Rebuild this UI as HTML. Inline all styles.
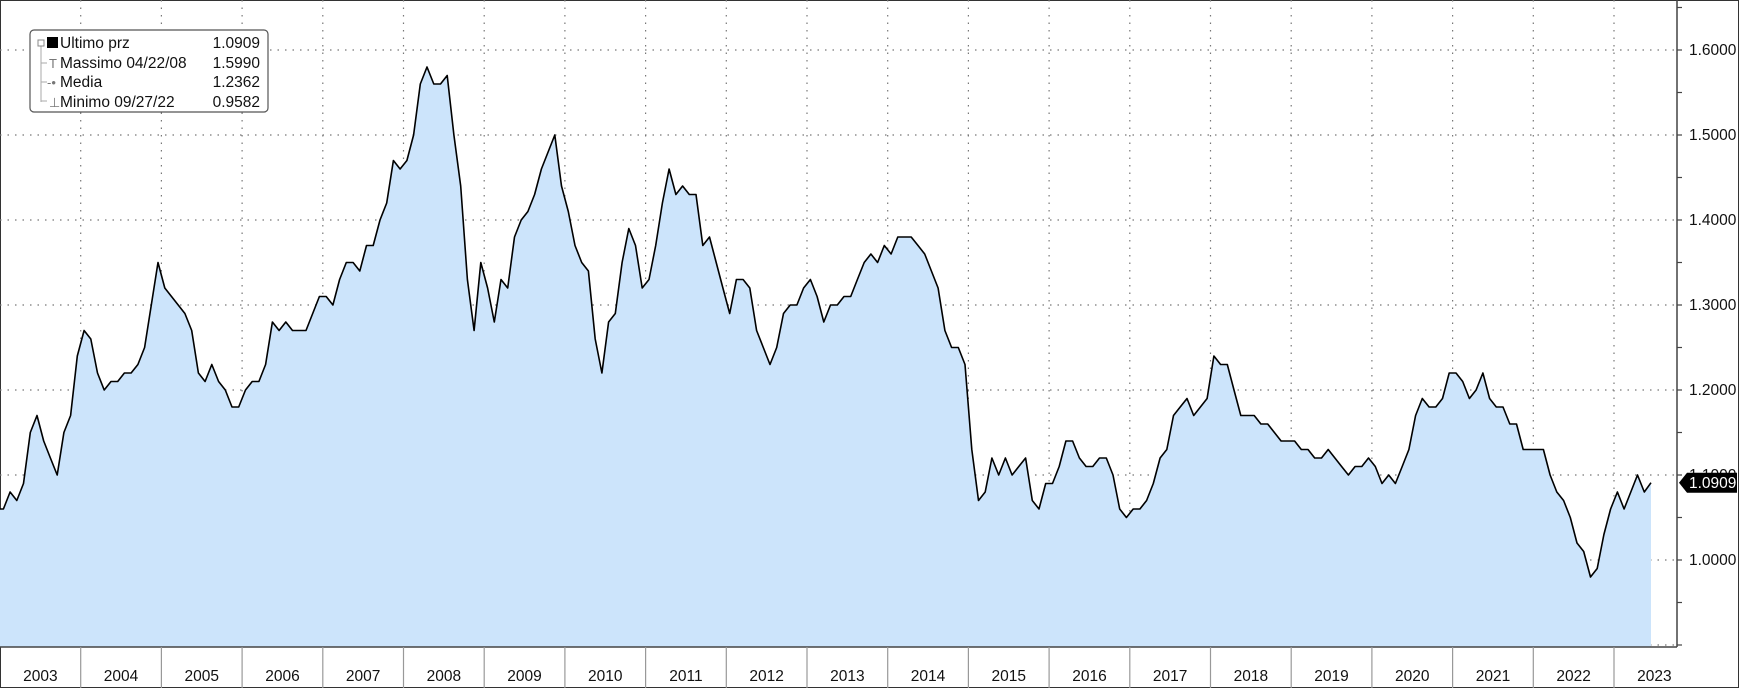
<!DOCTYPE html>
<html><head><meta charset="utf-8"><style>
html,body{margin:0;padding:0;background:#fff;}
svg{display:block;font-family:"Liberation Sans","DejaVu Sans",sans-serif;}
</style></head><body>
<svg id="chart" width="1739" height="688" viewBox="0 0 1739 688" xmlns="http://www.w3.org/2000/svg">
<rect x="0.5" y="0.5" width="1738" height="687" fill="#fff" stroke="#333"/>
<g id="grid"></g>
<g id="series"></g>
<g id="yaxis"></g>
<g id="xaxis"></g>
<g>
<rect x="30" y="30" width="238" height="82" rx="4" fill="#fff" stroke="#555" stroke-width="1.2"/>
<g font-size="15.5" fill="#111">
<path d="M41 44 V102 M41 63 H47 M41 82 H47 M41 101 H47" stroke="#aaa" fill="none"/>
<rect x="38" y="40" width="6" height="6" fill="#fff" stroke="#888"/>
<rect x="47" y="37" width="11" height="11" fill="#000"/>
<text x="60" y="48">Ultimo prz</text><text x="260" y="48" text-anchor="end">1.0909</text>
<text x="49" y="68" font-size="13" fill="#777">T</text>
<text x="60" y="68">Massimo 04/22/08</text><text x="260" y="68" text-anchor="end">1.5990</text>
<text x="47" y="87" font-size="13" fill="#777">-•</text>
<text x="60" y="87">Media</text><text x="260" y="87" text-anchor="end">1.2362</text>
<text x="49" y="107" font-size="13" fill="#777">⊥</text>
<text x="60" y="107">Minimo 09/27/22</text><text x="260" y="107" text-anchor="end">0.9582</text>
</g></g>
</svg>
<script>
const years = ["2003","2004","2005","2006","2007","2008","2009","2010","2011","2012","2013","2014","2015","2016","2017","2018","2019","2020","2021","2022","2023"];
const yTicks = [1.0,1.1,1.2,1.3,1.4,1.5,1.6];
const yTickLabels = ["1.0000","1.1000","1.2000","1.3000","1.4000","1.5000","1.6000"];
const lastValue = 1.0909;
const prices = [
1.06,1.08,1.07,1.09,1.15,1.17,1.14,1.12,1.10,1.15,1.17,1.24,
1.27,1.26,1.22,1.20,1.21,1.21,1.22,1.22,1.23,1.25,1.30,1.35,
1.32,1.31,1.30,1.29,1.27,1.22,1.21,1.23,1.21,1.20,1.18,1.18,
1.20,1.21,1.21,1.23,1.28,1.27,1.28,1.27,1.27,1.27,1.29,1.31,
1.31,1.30,1.33,1.35,1.35,1.34,1.37,1.37,1.40,1.42,1.47,1.46,
1.47,1.50,1.56,1.58,1.56,1.56,1.57,1.50,1.44,1.33,1.27,1.35,
1.32,1.28,1.33,1.32,1.38,1.40,1.41,1.43,1.46,1.48,1.50,1.44,
1.41,1.37,1.35,1.34,1.26,1.22,1.28,1.29,1.35,1.39,1.37,1.32,
1.33,1.37,1.42,1.46,1.43,1.44,1.43,1.43,1.37,1.38,1.35,1.32,
1.29,1.33,1.33,1.32,1.27,1.25,1.23,1.25,1.29,1.30,1.30,1.32,
1.33,1.31,1.28,1.30,1.30,1.31,1.31,1.33,1.35,1.36,1.35,1.37,
1.36,1.38,1.38,1.38,1.37,1.36,1.34,1.32,1.27,1.25,1.25,1.23,
1.13,1.07,1.08,1.12,1.10,1.12,1.10,1.11,1.12,1.07,1.06,1.09,
1.09,1.11,1.14,1.14,1.12,1.11,1.11,1.12,1.12,1.10,1.06,1.05,
1.06,1.06,1.07,1.09,1.12,1.13,1.17,1.18,1.19,1.17,1.18,1.19,
1.24,1.23,1.23,1.20,1.17,1.17,1.17,1.16,1.16,1.15,1.14,1.14,
1.14,1.13,1.13,1.12,1.12,1.13,1.12,1.11,1.10,1.11,1.11,1.12,
1.11,1.09,1.10,1.09,1.11,1.13,1.17,1.19,1.18,1.18,1.19,1.22,
1.22,1.21,1.19,1.20,1.22,1.19,1.18,1.18,1.16,1.16,1.13,1.13,
1.13,1.13,1.10,1.08,1.07,1.05,1.02,1.01,0.98,0.99,1.03,1.06,
1.08,1.06,1.08,1.10,1.08,1.0909];

const NS="http://www.w3.org/2000/svg";
const plotL=0, plotR=1677, plotT=0, plotB=647, yearW=80.7;
function yScale(v){return 50+(1.6-v)*850;}
function xScale(i){return (i+0.5)*yearW/12;}
function mk(tag,attrs,parent){const e=document.createElementNS(NS,tag);for(const k in attrs)e.setAttribute(k,attrs[k]);parent.appendChild(e);return e;}
const grid=document.getElementById('grid'), series=document.getElementById('series'), yaxis=document.getElementById('yaxis'), xaxis=document.getElementById('xaxis');

// horizontal grid
yTicks.concat([0.9]).forEach(v=>{
  const g=mk('line',{x1:plotL,x2:plotR,y1:yScale(v),y2:yScale(v),stroke:'#777','stroke-width':1.2,'stroke-dasharray':'1.5 6'},grid);
  
  
});
// vertical grid
years.forEach((y,i)=>{ if(i>0){
  const g=mk('line',{x1:i*yearW,x2:i*yearW,y1:plotT,y2:plotB,stroke:'#777','stroke-width':1.2,'stroke-dasharray':'1.5 6'},grid);
  
  
}});

// area + line
let d='';
prices.forEach((v,i)=>{d+=(i?'L':'M')+xScale(i).toFixed(1)+' '+yScale(v).toFixed(1);});
const lastX=xScale(prices.length-1);
const area=mk('path',{d:d+'L'+lastX+' '+plotB+'L'+xScale(0)+' '+plotB+'L0 '+plotB+'L0 '+yScale(prices[0])+'Z',fill:'#cce4fb'},series);


const line=mk('path',{d:'M0 '+yScale(prices[0])+d.replace('M','L'),fill:'none',stroke:'#000','stroke-width':1.6,'stroke-linejoin':'round'},series);



// y axis
const ax=mk('line',{x1:plotR,x2:plotR,y1:0,y2:plotB,stroke:'#444','stroke-width':1.5},yaxis);


for(let v=0.9;v<=1.651;v+=0.05){
  const t=mk('line',{x1:plotR,x2:plotR+5,y1:yScale(v),y2:yScale(v),stroke:'#444','stroke-width':1.2},yaxis);
  
  
}
yTicks.forEach((v,i)=>{
  const t=mk('text',{x:plotR+12,y:yScale(v)+5,'font-size':15.5,fill:'#111'},yaxis);
  t.textContent=yTickLabels[i];
  
  
});
const tag=mk('path',{d:`M${plotR+2} ${yScale(lastValue)} L${plotR+10} ${yScale(lastValue)-10} H1737 V${yScale(lastValue)+10} H${plotR+10} Z`,fill:'#000'},yaxis);


const tt=mk('text',{x:plotR+12,y:yScale(lastValue)+5.5,'font-size':15.5,fill:'#fff'},yaxis);
tt.textContent=lastValue.toFixed(4);



// x axis
const xl=mk('line',{x1:0,x2:plotR,y1:plotB,y2:plotB,stroke:'#444','stroke-width':1.5},xaxis);


years.forEach((y,i)=>{
  if(i>0){const s=mk('line',{x1:i*yearW,x2:i*yearW,y1:plotB,y2:688,stroke:'#999','stroke-width':1.2},xaxis);
  
  }
  const t=mk('text',{x:i*yearW+yearW/2,y:681,'font-size':15.5,fill:'#111','text-anchor':'middle'},xaxis);
  t.textContent=y;
  
  
});
</script>
</body></html>
